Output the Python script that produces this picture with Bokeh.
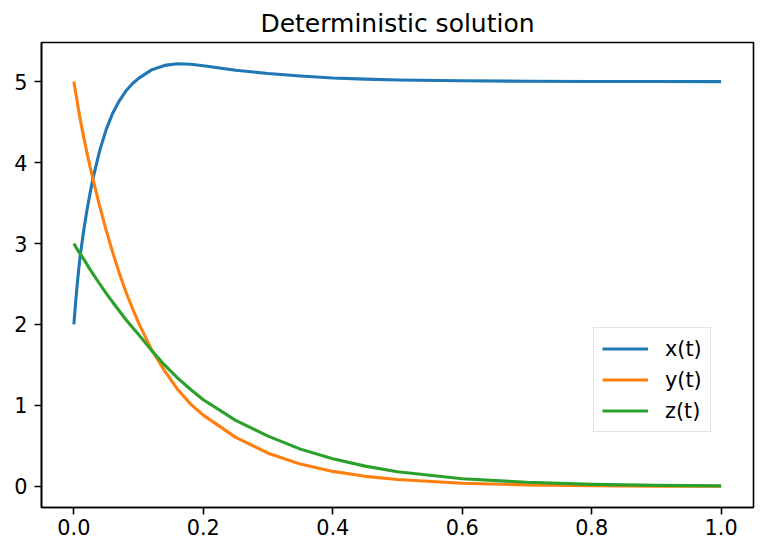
from bokeh.plotting import figure
from bokeh.models import Range1d, FixedTicker, PrintfTickFormatter, Legend, LegendItem
from bokeh.embed import file_html
from bokeh.resources import INLINE

t = [0.0, 0.0025, 0.005, 0.0075, 0.01, 0.015, 0.02, 0.025, 0.03, 0.04, 0.05, 0.06,
     0.07, 0.08, 0.09, 0.10, 0.12, 0.14, 0.16, 0.18, 0.20, 0.25, 0.30, 0.35, 0.40,
     0.45, 0.50, 0.60, 0.70, 0.80, 0.90, 1.00]
x_t = [2.0, 2.25, 2.48, 2.68, 2.86, 3.15, 3.40, 3.62, 3.82, 4.15, 4.41, 4.61,
       4.76, 4.88, 4.97, 5.04, 5.145, 5.20, 5.22, 5.215, 5.195, 5.14, 5.10, 5.07, 5.045,
       5.03, 5.02, 5.01, 5.005, 5.002, 5.001, 5.0]
y_t = [5.0, 4.88, 4.76, 4.64, 4.53, 4.32, 4.13, 3.95, 3.78, 3.46, 3.16, 2.89,
       2.64, 2.41, 2.21, 2.02, 1.69, 1.43, 1.20, 1.02, 0.88, 0.605, 0.41, 0.275, 0.185,
       0.124, 0.084, 0.039, 0.018, 0.008, 0.0035, 0.0016]
z_t = [3.0, 2.965, 2.93, 2.90, 2.87, 2.81, 2.745, 2.68, 2.62, 2.50, 2.385, 2.275,
       2.17, 2.065, 1.97, 1.876, 1.68, 1.50, 1.34, 1.20, 1.07, 0.815, 0.62, 0.46, 0.34,
       0.25, 0.18, 0.095, 0.05, 0.025, 0.012, 0.006]

series_labels = ["x(t)", "y(t)", "z(t)"]
colors = ["#1f77b4", "#ff7f0e", "#2ca02c"]
x_ticks = [0.0, 0.2, 0.4, 0.6, 0.8, 1.0]
y_ticks = [0, 1, 2, 3, 4, 5]
title_text = "Deterministic solution"

FONT = "DejaVu Sans"

p = figure(width=755, height=541, output_backend="svg", toolbar_location=None,
           x_range=Range1d(-0.05, 1.05), y_range=Range1d(-0.261, 5.483),
           min_border_left=41, min_border_right=2, min_border_top=42, min_border_bottom=34)

p.title.text = title_text
p.title.align = "center"
p.title.text_font = FONT
p.title.text_font_size = "25px"
p.title.text_font_style = "normal"
p.title.text_color = "black"
p.title.standoff = 10

p.xgrid.visible = False
p.ygrid.visible = False
p.outline_line_color = "black"
p.outline_line_width = 1.6
p.background_fill_color = "white"
p.border_fill_color = "white"

for ax in (p.xaxis[0], p.yaxis[0]):
    ax.axis_line_color = "black"
    ax.axis_line_width = 1.6
    ax.major_tick_line_color = "black"
    ax.major_tick_line_width = 1.6
    ax.major_tick_out = 7
    ax.major_tick_in = 0
    ax.minor_tick_line_color = None
    ax.major_label_text_font = FONT
    ax.major_label_text_font_size = "20.8px"
    ax.major_label_text_color = "black"

p.xaxis[0].ticker = FixedTicker(ticks=x_ticks)
p.xaxis[0].formatter = PrintfTickFormatter(format="%.1f")
p.xaxis[0].major_label_standoff = 4
p.yaxis[0].ticker = FixedTicker(ticks=y_ticks)
p.yaxis[0].major_label_standoff = 7

items = []
for vals, lab, col in zip([x_t, y_t, z_t], series_labels, colors):
    r = p.line(t, vals, line_color=col, line_width=3.1, line_join="round")
    items.append(LegendItem(label=lab, renderers=[r]))

legend = Legend(items=items, location=(552, 75))
legend.label_text_font = FONT
legend.label_text_font_size = "20.8px"
legend.label_text_color = "black"
legend.glyph_width = 46
legend.glyph_height = 25
legend.label_height = 25
legend.label_standoff = 17
legend.spacing = 6
legend.padding = 8
legend.margin = 0
legend.border_line_color = "#cccccc"
legend.border_line_width = 1.5
legend.background_fill_color = "white"
legend.background_fill_alpha = 0.8
p.add_layout(legend, "center")

open("out.html", "w").write(file_html(p, INLINE))
